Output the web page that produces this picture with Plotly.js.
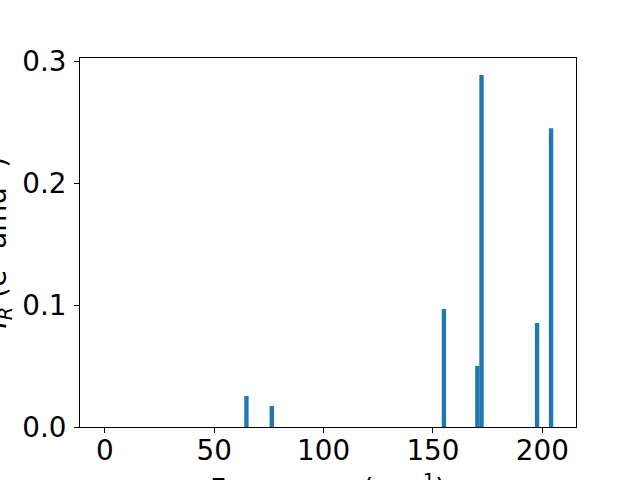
<!DOCTYPE html>
<html>
<head>
<meta charset="utf-8">
<script src="https://cdn.plot.ly/plotly-3.0.1.min.js"></script>
<style>html,body{margin:0;padding:0;background:#fff;}#chart{width:640px;height:480px;}</style>
</head>
<body>
<div id="chart"></div>
<script>
// Frequencies (cm^-1) and IR intensities
const frequencies = [0, 64.7, 76.3, 155.0, 170.3, 172.2, 197.6, 204.0];
const intensities = [0, 0.0254, 0.0172, 0.0967, 0.050, 0.2885, 0.0852, 0.245];
const xTickValues = [0, 50, 100, 150, 200];
const yTickValues = [0, 0.1, 0.2, 0.3];
const xTitle = 'Frequency (cm<sup>-1</sup>)';
const yTitle = '<i>I</i><sub><i>R</i></sub> (e<sup>2</sup> amu<sup>-1</sup>)';

const font = {family: 'DejaVu Sans', size: 27.8, color: '#000'};

const trace = {
  type: 'bar',
  x: frequencies,
  y: intensities,
  width: frequencies.map(() => 2),
  marker: {color: '#1f77b4', line: {width: 0}},
  hoverinfo: 'x+y'
};

const axisCommon = {
  ticks: 'outside', ticklen: 5, tickwidth: 1, tickcolor: '#000',
  showline: true, linecolor: '#000', linewidth: 1, mirror: true,
  showgrid: false, zeroline: false,
  tickfont: font,
  automargin: false
};

const layout = {
  width: 640, height: 480,
  margin: {l: 80, r: 64, t: 58, b: 53},
  paper_bgcolor: '#fff', plot_bgcolor: '#fff',
  font: font,
  showlegend: false,
  barmode: 'overlay',
  xaxis: Object.assign({}, axisCommon, {
    range: [-11.4, 215.4],
    tickvals: xTickValues,
    ticklabelstandoff: -6
  }),
  yaxis: Object.assign({}, axisCommon, {
    range: [0, 0.3025],
    tickvals: yTickValues,
    tickformat: '.1f',
    ticklabelstandoff: 2
  }),
  annotations: [
    {text: xTitle, xref: 'paper', yref: 'paper', x: 0.5, y: 0,
     xanchor: 'center', yanchor: 'middle', yshift: -60, showarrow: false, font: font},
    {text: yTitle, xref: 'paper', yref: 'paper', x: 0, y: 0.5, textangle: -90,
     xanchor: 'center', yanchor: 'middle', xshift: -83, showarrow: false, font: font}
  ]
};

Plotly.newPlot('chart', [trace], layout, {displayModeBar: false, staticPlot: true});
</script>
</body>
</html>
